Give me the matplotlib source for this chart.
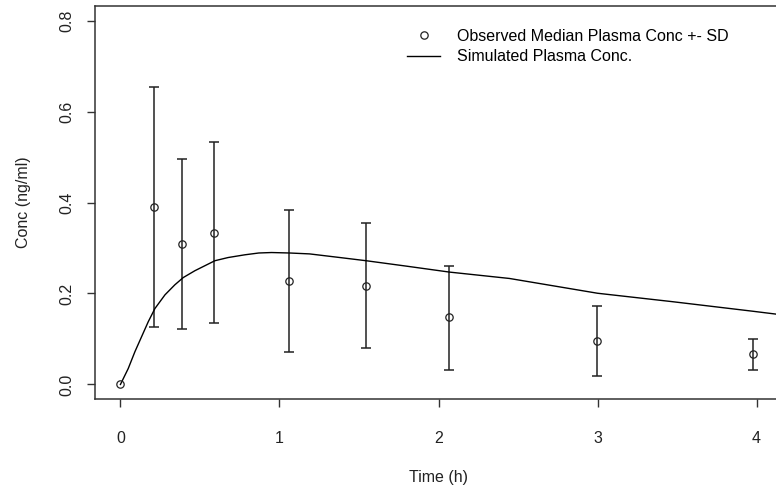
import numpy as np
import matplotlib
matplotlib.use("Agg")
import matplotlib.pyplot as plt

plt.rcParams['font.family'] = ['Liberation Sans', 'DejaVu Sans']

# observed medians +- SD
obs_time = [0.0, 0.214, 0.39, 0.589, 1.057, 1.545, 2.063, 2.998, 3.975]
obs_conc = [0.0, 0.391, 0.309, 0.334, 0.228, 0.217, 0.148, 0.095, 0.066]
obs_upper = [0.0, 0.654, 0.496, 0.533, 0.383, 0.354, 0.261, 0.173, 0.100]
obs_lower = [0.0, 0.126, 0.121, 0.136, 0.071, 0.081, 0.031, 0.019, 0.031]

# simulated plasma curve
sim_time = [0.0, 0.049, 0.091, 0.133, 0.175, 0.217, 0.28, 0.342, 0.395, 0.468,
            0.531, 0.594, 0.677, 0.782, 0.87, 0.95, 1.063, 1.189, 1.38, 1.545,
            1.8, 2.069, 2.446, 3.0, 3.47, 3.975, 4.16]
sim_conc = [0.0, 0.035, 0.072, 0.105, 0.138, 0.167, 0.197, 0.219, 0.235, 0.250,
            0.261, 0.272, 0.279, 0.285, 0.289, 0.290, 0.289, 0.287, 0.279, 0.272,
            0.260, 0.247, 0.233, 0.2005, 0.182, 0.161, 0.153]

x_ticks = [0, 1, 2, 3, 4]
y_ticks = [0.0, 0.2, 0.4, 0.6, 0.8]

W, H = 776, 491
fig = plt.figure(figsize=(W / 100, H / 100), dpi=100)
# box spans pixels x 95..782 (right edge falls just outside the image), y 6..399
ax = fig.add_axes([95 / W, 1 - 399 / H, (782 - 95) / W, (399 - 6) / H])

obs_conc = np.array(obs_conc)
lo = obs_conc - np.array(obs_lower)
hi = np.array(obs_upper) - obs_conc
ax.errorbar(obs_time[1:], obs_conc[1:], yerr=[lo[1:], hi[1:]],
            fmt='none', ecolor='#222222', elinewidth=1.1, capsize=3.4,
            capthick=1.1)
ax.plot(sim_time, sim_conc, color='black', lw=1.0,
        label='Simulated Plasma Conc.')
ax.plot(obs_time, obs_conc, 'o', mfc='none', mec='#222222', ms=5.3, mew=0.9,
        label='Observed Median Plasma Conc +- SD')

ax.set_xlim(-0.16, 4.16)
ax.set_ylim(-0.032, 0.832)
ax.set_xticks(x_ticks)
ax.set_xticklabels([str(v) for v in x_ticks])
ax.set_yticks(y_ticks)
ax.set_yticklabels(['%.1f' % v for v in y_ticks], rotation=90, va='center')
ax.tick_params(direction='out', length=6, width=1, color='#333333',
               labelsize=11.5, labelcolor='#222222', pad=9)
ax.tick_params(axis='x', pad=17)
for s in ax.spines.values():
    s.set_color('#333333')
    s.set_linewidth(1.1)

ax.set_xlabel('Time (h)', fontsize=11.5, color='#222222', labelpad=17)
ax.set_ylabel('Conc (ng/ml)', fontsize=11.5, color='#222222', labelpad=20)

handles, labels = ax.get_legend_handles_labels()
ax.legend(handles[::-1], labels[::-1], loc='upper left',
          bbox_to_anchor=(407 / W, 1 - 29 / H), bbox_transform=fig.transFigure,
          frameon=False, fontsize=11.5, handlelength=2.07, handletextpad=1.05,
          labelspacing=0.32, borderpad=0, borderaxespad=0)

fig.savefig('out.png', dpi=100)
